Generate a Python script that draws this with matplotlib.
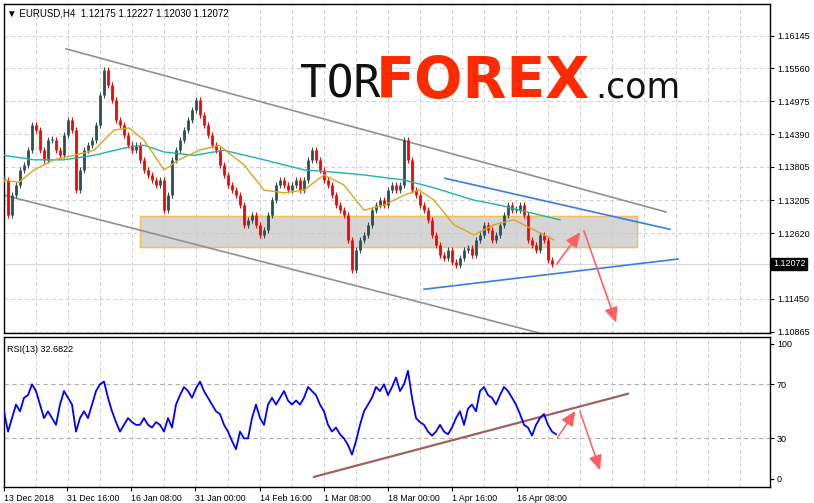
import matplotlib
matplotlib.use("Agg")
import matplotlib.pyplot as plt
import numpy as np

plt.rcParams['font.family'] = ['Liberation Sans', 'DejaVu Sans']

closes = [1.1357,1.1294,1.1330,1.1348,1.1375,1.1384,1.1410,1.1455,1.1446,1.1410,1.1393,1.1428,1.1428,1.1410,1.1401,1.1437,
1.1464,1.1446,1.1339,1.1375,1.1410,1.1419,1.1428,1.1455,1.1509,1.1553,1.1526,1.1500,1.1464,1.1455,1.1437,1.1419,
1.1410,1.1419,1.1393,1.1375,1.1366,1.1357,1.1348,1.1357,1.1303,1.1330,1.1393,1.1410,1.1428,1.1446,1.1464,1.1482,
1.1500,1.1473,1.1455,1.1437,1.1419,1.1410,1.1384,1.1366,1.1348,1.1339,1.1330,1.1312,1.1277,1.1286,1.1294,1.1277,
1.1259,1.1268,1.1294,1.1321,1.1348,1.1357,1.1348,1.1339,1.1348,1.1357,1.1339,1.1357,1.1393,1.1410,1.1393,1.1375,
1.1357,1.1348,1.1330,1.1312,1.1303,1.1294,1.1250,1.1196,1.1232,1.1250,1.1259,1.1277,1.1303,1.1312,1.1321,1.1312,
1.1339,1.1348,1.1339,1.1348,1.1428,1.1393,1.1339,1.1330,1.1312,1.1303,1.1286,1.1259,1.1241,1.1223,1.1218,1.1232,
1.1211,1.1205,1.1218,1.1232,1.1236,1.1223,1.1250,1.1259,1.1277,1.1268,1.1250,1.1259,1.1277,1.1294,1.1312,1.1303,
1.1303,1.1312,1.1294,1.1250,1.1241,1.1232,1.1259,1.1250,1.1214,1.1207]

ma_slow_x = [0,7.5,15,22.5,30,35,40,47.5,55,65,75,82.5,90,100,107.5,117.5,124,129,139]
ma_slow = [1.1401,1.1393,1.1393,1.1401,1.1414,1.1419,1.1407,1.1401,1.1410,1.1393,1.1375,1.1371,1.1366,1.1357,1.1343,1.1321,1.1312,1.1303,1.1286]
ma_fast_x = [0,3.75,7.5,12.5,17.5,22.5,27.5,31.25,35,40,43.75,48.75,53.75,60,65,70,75,80,85,90,95,100,103.75,107.5,112.5,117.5,122.5,127.5,132.5,137.5]
ma_fast = [1.1357,1.1353,1.1375,1.1393,1.1401,1.1410,1.1446,1.1450,1.1428,1.1375,1.1393,1.1410,1.1419,1.1384,1.1339,1.1334,1.1339,1.1366,1.1348,1.1303,1.1312,1.1330,1.1339,1.1321,1.1277,1.1259,1.1277,1.1286,1.1268,1.1250]

rsi = [50,35,45,55,50,60,62,70,65,55,45,50,45,40,55,65,60,55,35,45,50,45,55,65,70,72,60,50,42,35,40,45,
42,40,40,45,40,38,42,40,35,45,38,55,62,68,65,60,67,72,65,60,55,50,48,40,35,28,22,35,30,30,45,55,
45,40,55,60,55,60,65,58,55,58,55,60,68,65,62,55,50,40,35,38,33,30,25,18,28,40,50,55,60,68,65,70,
62,68,75,65,70,80,60,45,42,40,35,32,35,40,35,33,38,45,50,40,52,55,50,65,68,62,60,55,62,68,65,60,
55,48,40,38,32,40,45,48,40,35,33]

price_ticks = [1.16145,1.15560,1.14975,1.14390,1.13805,1.13205,1.12620,1.11450,1.10865]
last_price = 1.12072
date_labels = ["13 Dec 2018","31 Dec 16:00","16 Jan 08:00","31 Jan 00:00","14 Feb 16:00",
               "1 Mar 08:00","18 Mar 00:00","1 Apr 16:00","16 Apr 08:00"]
date_pos = [0,15.75,31.75,47.75,64,80,96,112,128.25]

fig = plt.figure(figsize=(8.14,5.03), dpi=100)
ax = fig.add_axes([4/814, 1-333/503, 766/814, 329/503])
ax2 = fig.add_axes([4/814, 1-487/503, 766/814, 150/503])
XL = (0, 191.5)
for a in (ax, ax2):
    a.set_xlim(*XL)
    for s in a.spines.values():
        s.set_color("black"); s.set_linewidth(1)
    a.tick_params(axis='both', labelsize=6.5, length=3, pad=2, direction='out', colors='black')
    a.yaxis.tick_right()

ax.set_ylim(1.1084, 1.1671)
ax2.set_ylim(-6, 105)

vgrid = np.arange(0, 192, 8)
for a in (ax, ax2):
    for v in vgrid:
        a.axvline(v, color='#d0d0d0', ls=(0,(4,3)), lw=0.7, zorder=0)
for t in price_ticks:
    ax.axhline(t, color='#d0d0d0', ls=(0,(4,3)), lw=0.7, zorder=0)
for t in (30,70):
    ax2.axhline(t, color='#b0b0b0', ls=(0,(4,3)), lw=0.8, zorder=0)

ax.fill_between([34,158.25],1.1237,1.1293,color='#c8c8c8',alpha=0.75,zorder=1)
ax.plot([34,158.25,158.25,34,34],[1.1237,1.1237,1.1293,1.1293,1.1237],color='#f0c060',lw=1,zorder=1)

x = np.arange(len(closes))
opens = [closes[0]] + closes[:-1]
for i,(o,c) in enumerate(zip(opens,closes)):
    col = '#2f4f4f' if c >= o else '#ff0000'
    lo, hi = min(o,c), max(o,c)
    if hi-lo < 0.0003: hi = lo+0.0003
    ax.vlines(i, lo-0.0005, hi+0.0005, color=col, lw=0.8, zorder=3)
    ax.vlines(i, lo, hi, color=col, lw=2.0, zorder=3)

ax.plot(ma_slow_x, ma_slow, color='#20b2aa', lw=1, zorder=4)
ax.plot(ma_fast_x, ma_fast, color='#daa520', lw=1, zorder=4)

ax.plot([15.5,165.5],[1.1591,1.1300],color='#909090',lw=1.2,zorder=2)
ax.plot([0,136],[1.1330,1.1080],color='#909090',lw=1.2,zorder=2)
ax.plot([110.25,166.5],[1.1360,1.1269],color='#3a7de0',lw=1.2,zorder=2)
ax.plot([105,168.5],[1.1162,1.1216],color='#3a7de0',lw=1.2,zorder=2)
ax.axhline(last_price,color='#d8d8d8',lw=0.8,zorder=1)
ax.annotate('',xy=(144.5,1.1268),xytext=(137.75,1.1203),arrowprops=dict(arrowstyle='-|>,head_length=0.9,head_width=0.4',color='#ff6060',lw=1.2))
ax.annotate('',xy=(153.25,1.1098),xytext=(144.75,1.1271),arrowprops=dict(arrowstyle='-|>,head_length=0.9,head_width=0.4',color='#ff6060',lw=1.2))

ax.set_yticks(price_ticks)
ax.set_yticklabels([f"{t:.5f}" for t in price_ticks])
ax.set_xticks([])
ax.text(1.004, (last_price-1.1084)/(1.1671-1.1084), f"{last_price:.5f}", transform=ax.transAxes,
        fontsize=6.5, color='white', va='center', ha='left',
        bbox=dict(boxstyle='square,pad=0.2', fc='black', ec='black'))
ax.text(0.004, 0.985, "\u25bc EURUSD,H4  1.12175 1.12227 1.12030 1.12072", transform=ax.transAxes,
        fontsize=7, va='top', ha='left')

fig.text(300/814, 1-98/503, "TOR", fontsize=32, family='DejaVu Sans Mono', color='#111111')
fig.text(376/814, 1-98/503, "FOREX", fontsize=41, weight='bold', family='DejaVu Sans', color='#ff2a00')
fig.text(595/814, 1-98/503, ".com", fontsize=25, family='DejaVu Sans', color='#111111')

ax2.plot(np.arange(len(rsi)), rsi, color='#0000ff', lw=1.3, zorder=3)
ax2.plot([77.5,156],[1.5,63],color='#a06060',lw=1.6,zorder=2)
ax2.annotate('',xy=(143.25,52),xytext=(138,29),arrowprops=dict(arrowstyle='-|>,head_length=0.9,head_width=0.4',color='#ff6060',lw=1.1))
ax2.annotate('',xy=(149.25,4.5),xytext=(143.75,52),arrowprops=dict(arrowstyle='-|>,head_length=0.9,head_width=0.4',color='#ff6060',lw=1.1))
ax2.set_yticks([0,30,70,100])
ax2.set_xticks(date_pos)
ax2.set_xticklabels(date_labels, ha='left', fontsize=6.3)
ax2.text(0.004, 0.95, "RSI(13) 32.6822", transform=ax2.transAxes, fontsize=6.5, va='top')

fig.savefig("out.png", dpi=100)
